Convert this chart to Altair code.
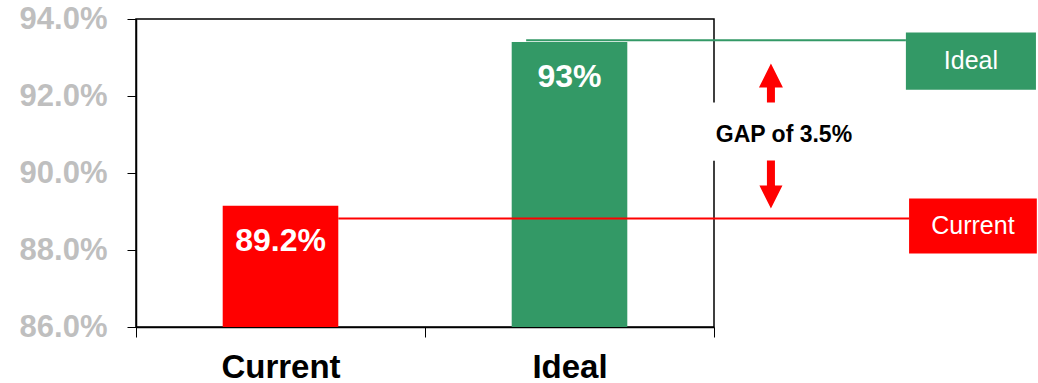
import altair as alt
import pandas as pd

# ---- data ----
categories = ["Current", "Ideal"]
values = [89.15, 93.4]
bar_labels = ["89.2%", "93%"]
bar_colors = ["#FF0000", "#339966"]
y_ticks = [86.0, 88.0, 90.0, 92.0, 94.0]
ref_names = ["Current", "Ideal"]
ref_levels = [88.82, 93.45]
gap_text = ["GAP of 3.5%"]

# ---- layout constants (annotation space: 0..2 spans the plot width) ----
Y_MIN, Y_MAX = 86, 94
W, H = 578, 308
FONT = "Liberation Sans"
line_x0 = [0.70, 1.35]
line_x1 = [2.675, 2.664]
box_x0 = [2.675, 2.664]
box_x1 = [3.117, 3.114]
box_y0 = [87.91, 92.16]
box_y1 = [89.34, 93.65]

bars_df = pd.DataFrame({"cat": categories, "val": values,
                        "base": [Y_MIN] * len(categories), "label": bar_labels})
ref_df = pd.DataFrame({"name": ref_names, "level": ref_levels,
                       "x0": line_x0, "x1": line_x1,
                       "bx0": box_x0, "bx1": box_x1, "by0": box_y0, "by1": box_y1,
                       "tx": [(a + b) / 2 for a, b in zip(box_x0, box_x1)],
                       "ty": [(a + b) / 2 for a, b in zip(box_y0, box_y1)]})
gap_df = pd.DataFrame({"t": gap_text, "x": [2.242], "y": [90.81],
                       "wx0": [1.97], "wx1": [2.52], "wy0": [90.32], "wy1": [91.83]})
up_df = pd.DataFrame({"x": [2.197], "y": [92.335]})
down_df = pd.DataFrame({"x": [2.197], "y": [89.70]})

yscale = alt.Scale(domain=[Y_MIN, Y_MAX], zero=False, nice=False)
ascale = alt.Scale(domain=[0, 2], zero=False, nice=False)
cscale = alt.Scale(domain=categories, range=bar_colors)

x_band = alt.X("cat:N", sort=categories, title=None,
               scale=alt.Scale(paddingInner=0, paddingOuter=0),
               axis=alt.Axis(tickBand="extent", labelAngle=0, labelFont=FONT,
                             labelFontSize=33, labelFontWeight="bold", labelColor="black",
                             tickSize=10, tickColor="black", domainColor="black",
                             domainWidth=1.5, labelPadding=14))

bars = alt.Chart(bars_df).mark_bar(width=alt.RelativeBandSize(0.4)).encode(
    x=x_band,
    y=alt.Y("val:Q", scale=yscale, title=None,
            axis=alt.Axis(values=y_ticks, labelExpr="format(datum.value, '.1f') + '%'",
                          labelFont=FONT, labelFontSize=31, labelFontWeight="bold",
                          labelColor="#bfbfbf", tickSize=9, tickColor="black",
                          domainColor="black", domainWidth=1.5, labelPadding=20,
                          grid=False)),
    y2="base:Q",
    color=alt.Color("cat:N", scale=cscale, legend=None),
)

bar_text = alt.Chart(bars_df).mark_text(color="white", font=FONT, fontSize=32,
                                        fontWeight="bold", baseline="alphabetic",
                                        dy=45).encode(
    x=alt.X("cat:N", sort=categories, title=None, axis=None),
    y=alt.Y("val:Q", scale=yscale, title=None),
    text="label:N",
)

rules = alt.Chart(ref_df).mark_rule(strokeWidth=2).encode(
    x=alt.X("x0:Q", scale=ascale, axis=None), x2="x1:Q",
    y=alt.Y("level:Q", scale=yscale, title=None),
    color=alt.Color("name:N", scale=cscale, legend=None),
)

boxes = alt.Chart(ref_df).mark_rect().encode(
    x=alt.X("bx0:Q", scale=ascale, axis=None), x2="bx1:Q",
    y=alt.Y("by0:Q", scale=yscale, title=None), y2="by1:Q",
    color=alt.Color("name:N", scale=cscale, legend=None),
)

box_text = alt.Chart(ref_df).mark_text(color="white", font=FONT, fontSize=25,
                                       baseline="middle").encode(
    x=alt.X("tx:Q", scale=ascale, axis=None),
    y=alt.Y("ty:Q", scale=yscale, title=None),
    text="name:N",
)

white = alt.Chart(gap_df).mark_rect(color="white").encode(
    x=alt.X("wx0:Q", scale=ascale, axis=None), x2="wx1:Q",
    y=alt.Y("wy0:Q", scale=yscale, title=None), y2="wy1:Q",
)

gap = alt.Chart(gap_df).mark_text(color="black", font=FONT, fontSize=23,
                                  fontWeight="bold", baseline="alphabetic").encode(
    x=alt.X("x:Q", scale=ascale, axis=None),
    y=alt.Y("y:Q", scale=yscale, title=None),
    text="t:N",
)

up_path = "M0,-1 L0.615,0.23 L0.205,0.23 L0.205,1 L-0.205,1 L-0.205,0.23 L-0.615,0.23 Z"
down_path = "M-0.167,-1 L0.167,-1 L0.167,0.04 L0.48,0.04 L0,1 L-0.48,0.04 L-0.167,0.04 Z"

up = alt.Chart(up_df).mark_point(shape=up_path, size=1521, filled=True, color="#FF0000",
                                 opacity=1, strokeWidth=0).encode(
    x=alt.X("x:Q", scale=ascale, axis=None),
    y=alt.Y("y:Q", scale=yscale, title=None),
)
down = alt.Chart(down_df).mark_point(shape=down_path, size=2304, filled=True,
                                     color="#FF0000", opacity=1, strokeWidth=0).encode(
    x=alt.X("x:Q", scale=ascale, axis=None),
    y=alt.Y("y:Q", scale=yscale, title=None),
)

chart = alt.layer(bars, bar_text, white, rules, boxes, box_text, gap, up, down).resolve_scale(
    x="independent"
).properties(
    width=W, height=H, autosize="none",
    padding={"left": 136, "top": 19, "right": 324, "bottom": 56},
).configure_view(stroke="black", strokeWidth=1.5)

chart.save("out.html", embed_options={"renderer": "svg", "actions": False})
